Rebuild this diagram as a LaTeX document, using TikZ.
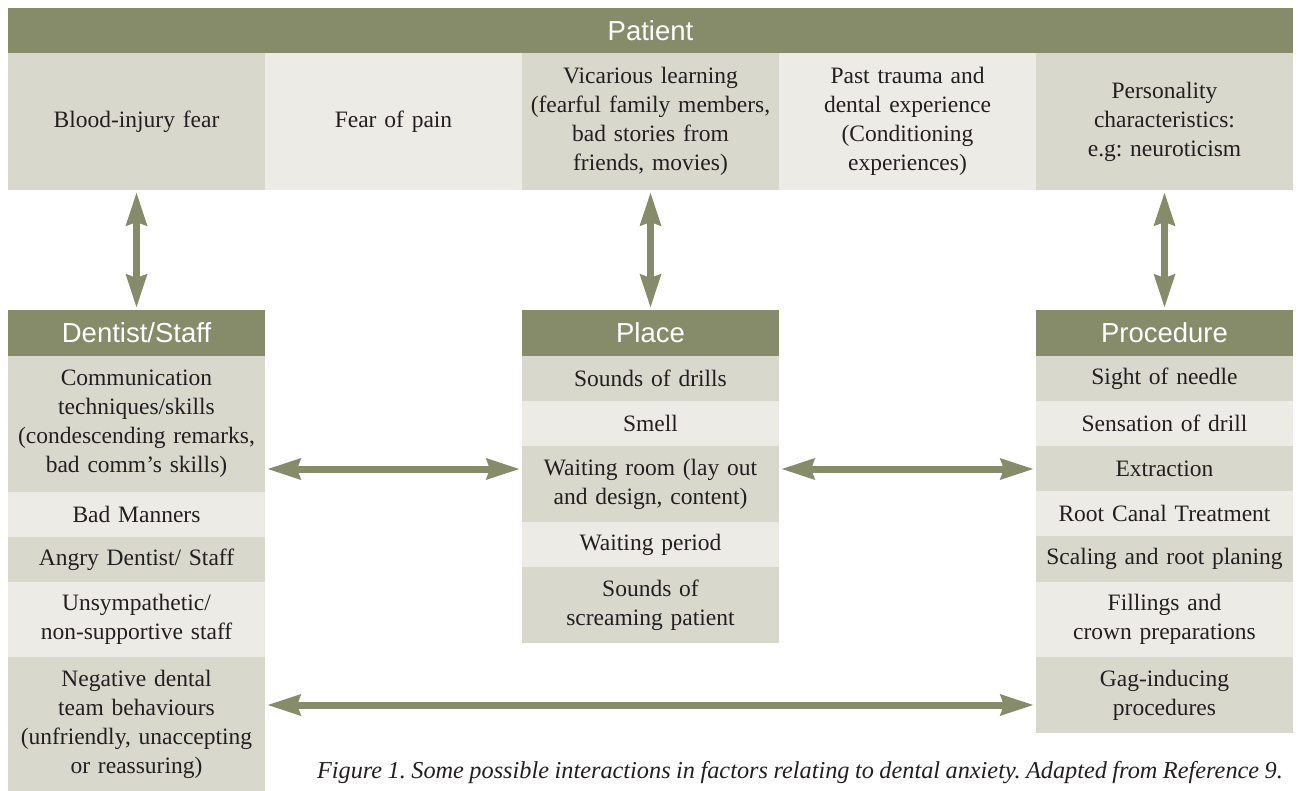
\documentclass[tikz,border=0pt]{standalone}
\usepackage{fontspec}
\setmainfont{Liberation Serif}[WordSpace=0.9]
\setsansfont{Liberation Sans}
\usetikzlibrary{arrows.meta}
\frenchspacing
\definecolor{hdrcol}{HTML}{868B6A}
\definecolor{darkcell}{HTML}{D8D8CC}
\definecolor{lightcell}{HTML}{ECEBE6}
\definecolor{txt}{HTML}{231F20}
\tikzset{
  box/.style={anchor=north west, inner sep=0pt, outer sep=0pt, minimum width=257pt, text width=255pt, align=center, text=txt, font=\fontsize{23.5}{29}\selectfont},
  hdr/.style={box, fill=hdrcol, text=white, font=\sffamily\fontsize{27.5}{30}\selectfont},
  cd/.style={box, fill=darkcell},
  cl/.style={box, fill=lightcell},
  arr/.style={draw=hdrcol, line width=7pt, {Stealth[width=20pt,length=33pt,inset=3pt]}-{Stealth[width=20pt,length=33pt,inset=3pt]}, shorten <=2pt, shorten >=2pt},
}
\begin{document}
\begin{tikzpicture}[x=1pt,y=-1pt]
\useasboundingbox (0,0) rectangle (1298,791);
% Patient
\node[hdr, minimum width=1285pt, minimum height=45pt] (patient) at (8,8) {Patient};
\node[cd, minimum height=137pt] (blood) at (8,53) {Blood-injury fear};
\node[cl, minimum height=137pt] (pain) at (265,53) {Fear of pain};
\node[cd, minimum height=137pt] (vic) at (522,53) {Vicarious learning\\(fearful family members,\\bad stories from\\friends, movies)};
\node[cl, minimum height=137pt] (past) at (779,53) {Past trauma and\\dental experience\\(Conditioning\\experiences)};
\node[cd, minimum height=137pt] (pers) at (1036,53) {Personality\\characteristics:\\e.g: neuroticism};
% Dentist/Staff
\node[hdr, minimum height=46pt] (dent) at (8,310) {Dentist/Staff};
\node[cd, minimum height=136pt] (comm) at (8,356) {Communication\\techniques/skills\\(condescending remarks,\\bad comm's skills)};
\node[cl, minimum height=45pt] (manners) at (8,492) {Bad Manners};
\node[cd, minimum height=45pt] (angry) at (8,537) {Angry Dentist/ Staff};
\node[cl, minimum height=75pt] (unsym) at (8,582) {Unsympathetic/\\non-supportive staff};
\node[cd, minimum height=134pt] (neg) at (8,657) {Negative dental\\team behaviours\\(unfriendly, unaccepting\\or reassuring)};
% Place
\node[hdr, minimum height=46pt] (place) at (522,310) {Place};
\node[cd, minimum height=45pt] (drills) at (522,356) {Sounds of drills};
\node[cl, minimum height=45pt] (smell) at (522,401) {Smell};
\node[cd, minimum height=76pt] (wroom) at (522,446) {Waiting room (lay out\\and design, content)};
\node[cl, minimum height=45pt] (wper) at (522,522) {Waiting period};
\node[cd, minimum height=76pt] (scream) at (522,567) {Sounds of\\screaming patient};
% Procedure
\node[hdr, minimum height=46pt] (proc) at (1036,310) {Procedure};
\node[cd, minimum height=45pt] (needle) at (1036,356) {Sight of needle};
\node[cl, minimum height=45pt] (drill) at (1036,401) {Sensation of drill};
\node[cd, minimum height=45pt] (extr) at (1036,446) {Extraction};
\node[cl, minimum height=45pt] (rct) at (1036,491) {Root Canal Treatment};
\node[cd, minimum height=46pt] (scal) at (1036,536) {Scaling and root planing};
\node[cl, minimum height=75pt] (fill) at (1036,582) {Fillings and\\crown preparations};
\node[cd, minimum height=76pt] (gag) at (1036,657) {Gag-inducing\\procedures};
% Arrows
\coordinate (hrow) at ([yshift=-0.5pt]extr.west);
\coordinate (brow) at ([yshift=-10pt]gag.west);
\draw[arr] (blood.south) -- (dent.north);
\draw[arr] (vic.south) -- (place.north);
\draw[arr] (pers.south) -- (proc.north);
\draw[arr] (comm.east |- hrow) -- (wroom.west |- hrow);
\draw[arr] (wroom.east |- hrow) -- (hrow);
\draw[arr] (neg.east |- brow) -- (brow);
% Caption
\node[anchor=east, inner sep=0pt, text=txt, font=\itshape\fontsize{24.3}{28}\selectfont] (cap) at (1283,773) {Figure 1. Some possible interactions in factors relating to dental anxiety. Adapted from Reference 9.};
\end{tikzpicture}
\end{document}
